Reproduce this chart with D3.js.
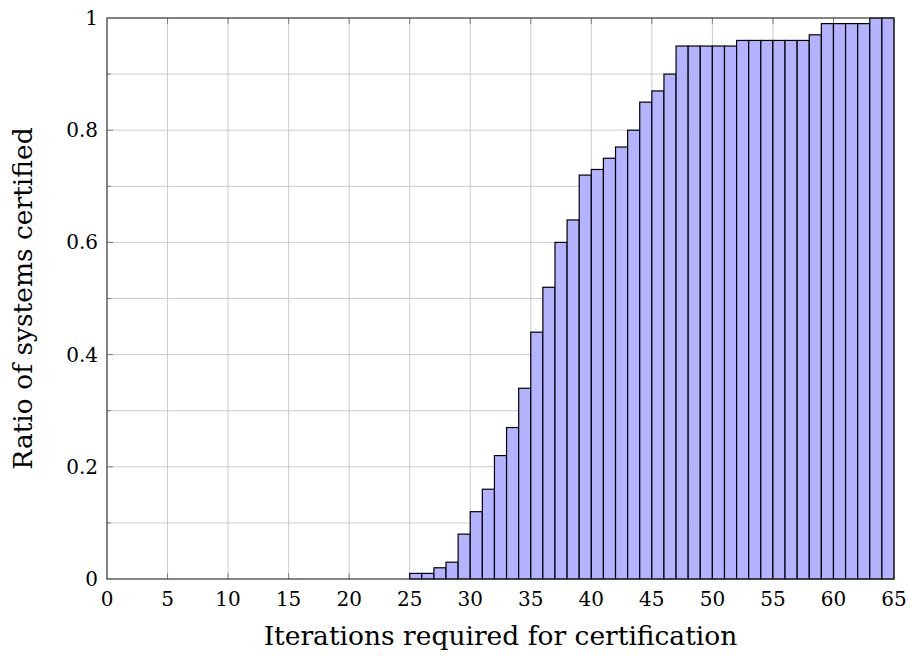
<!DOCTYPE html>
<html><head><meta charset="utf-8">
<script src="https://cdn.jsdelivr.net/npm/d3@7"></script>
<style>html,body{margin:0;padding:0;background:#fff;}svg{display:block;}</style>
</head><body>
<svg id="chart" width="909" height="656"></svg>
<script>
// Data
const binStarts = [25,26,27,28,29,30,31,32,33,34,35,36,37,38,39,40,41,42,43,44,45,46,47,48,49,50,51,52,53,54,55,56,57,58,59,60,61,62,63,64];
const ratios = [0.01,0.01,0.02,0.03,0.08,0.12,0.16,0.22,0.27,0.34,0.44,0.52,0.60,0.64,0.72,0.73,0.75,0.77,0.80,0.85,0.87,0.90,0.95,0.95,0.95,0.95,0.95,0.96,0.96,0.96,0.96,0.96,0.96,0.97,0.99,0.99,0.99,0.99,1.00,1.00];
const xTicks = [0,5,10,15,20,25,30,35,40,45,50,55,60,65];
const yTicks = [0,0.2,0.4,0.6,0.8,1];
const yMinorTicks = [0.1,0.3,0.5,0.7,0.9];
const xLabel = "Iterations required for certification";
const yLabel = "Ratio of systems certified";

const mLeft = 107, mRight = 894, mTop = 18, mBottom = 579;
const svg = d3.select("#chart");
const x = d3.scaleLinear().domain([0,65]).range([mLeft,mRight]);
const y = d3.scaleLinear().domain([0,1]).range([mBottom,mTop]);
const font = "'DejaVu Serif', serif";
const gridColor = "#cccccc";

// grid
const g = svg.append("g");
g.selectAll("line.vx").data(xTicks.slice(1,-1)).join("line")
  .attr("x1",d=>x(d)).attr("x2",d=>x(d)).attr("y1",mTop).attr("y2",mBottom)
  .attr("stroke",gridColor).attr("stroke-width",1);
g.selectAll("line.hy").data(yTicks.slice(1,-1).concat(yMinorTicks)).join("line")
  .attr("x1",mLeft).attr("x2",mRight).attr("y1",d=>y(d)).attr("y2",d=>y(d))
  .attr("stroke",gridColor).attr("stroke-width",1);

// ticks (inside, both sides)
const tk = svg.append("g").attr("stroke","#808080").attr("stroke-width",1);
xTicks.slice(1,-1).forEach(d=>{
  tk.append("line").attr("x1",x(d)).attr("x2",x(d)).attr("y1",mBottom).attr("y2",mBottom-6);
  tk.append("line").attr("x1",x(d)).attr("x2",x(d)).attr("y1",mTop).attr("y2",mTop+6);
});
yTicks.slice(1,-1).forEach(d=>{
  tk.append("line").attr("x1",mLeft).attr("x2",mLeft+6).attr("y1",y(d)).attr("y2",y(d));
  tk.append("line").attr("x1",mRight).attr("x2",mRight-6).attr("y1",y(d)).attr("y2",y(d));
});
yMinorTicks.forEach(d=>{
  tk.append("line").attr("x1",mLeft).attr("x2",mLeft+4).attr("y1",y(d)).attr("y2",y(d));
  tk.append("line").attr("x1",mRight).attr("x2",mRight-4).attr("y1",y(d)).attr("y2",y(d));
});

// bars
svg.append("g").selectAll("rect").data(binStarts.map((s,i)=>({s,v:ratios[i]}))).join("rect")
  .attr("x",d=>x(d.s)).attr("width",d=>x(d.s+1)-x(d.s))
  .attr("y",d=>y(d.v)).attr("height",d=>y(0)-y(d.v))
  .attr("fill","#b3b3ff").attr("stroke","#000").attr("stroke-width",1.2);

// frame
svg.append("rect").attr("x",mLeft).attr("y",mTop).attr("width",mRight-mLeft).attr("height",mBottom-mTop)
  .attr("fill","none").attr("stroke","#333").attr("stroke-width",1.2);

// tick labels
svg.append("g").selectAll("text").data(xTicks).join("text")
  .attr("x",d=>x(d)).attr("y",mBottom+27).attr("text-anchor","middle")
  .attr("font-family",font).attr("font-size",20).attr("fill","#000")
  .text(d=>d3.format("d")(d));
svg.append("g").selectAll("text").data(yTicks).join("text")
  .attr("x",mLeft-9).attr("y",d=>y(d)+7).attr("text-anchor","end")
  .attr("font-family",font).attr("font-size",20).attr("fill","#000")
  .text(d=>d===0||d===1?String(d):d3.format(".1f")(d));

// axis labels
svg.append("text").attr("x",(mLeft+mRight)/2).attr("y",645).attr("text-anchor","middle")
  .attr("font-family",font).attr("font-size",26.5).attr("fill","#000").text(xLabel);
svg.append("text").attr("transform",`translate(32,${(mTop+mBottom)/2}) rotate(-90)`)
  .attr("text-anchor","middle")
  .attr("font-family",font).attr("font-size",26.5).attr("fill","#000").text(yLabel);
</script>
</body></html>
